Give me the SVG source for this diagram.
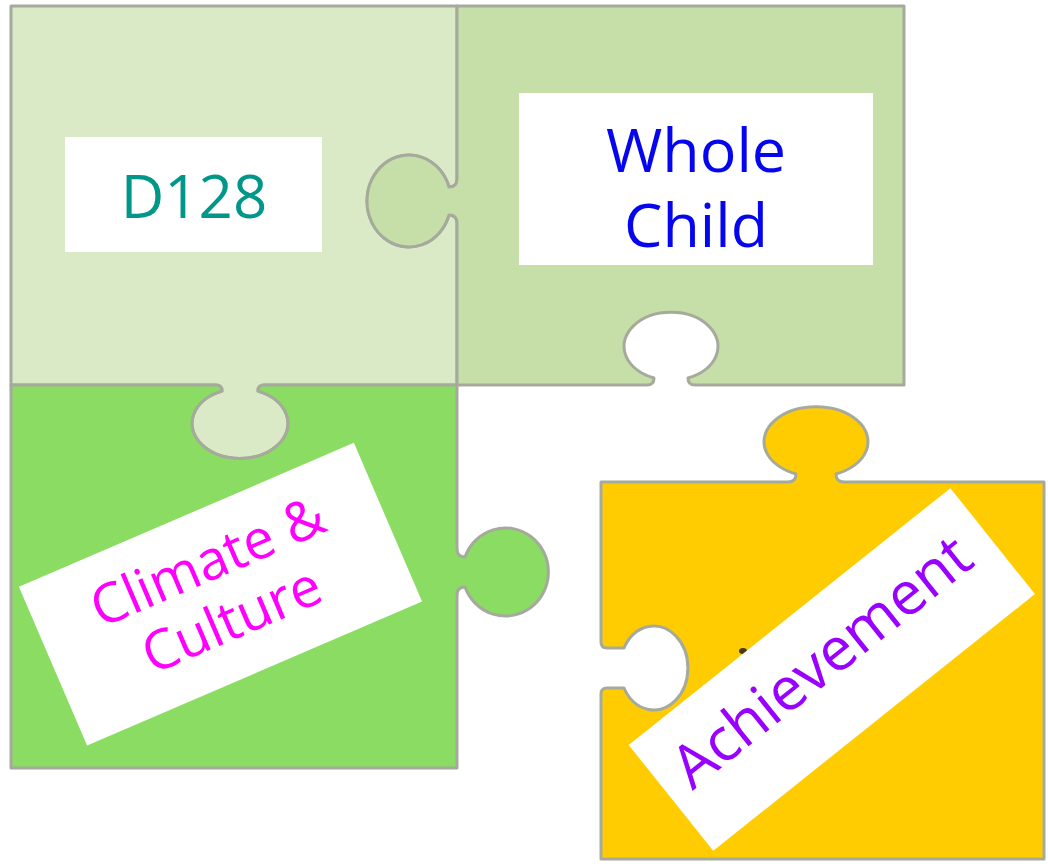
<svg xmlns="http://www.w3.org/2000/svg" width="1048" height="866" viewBox="0 0 1048 866">
  <style>
    .piece { stroke: #a5aa9c; stroke-width: 3; stroke-linejoin: round; }
    .card { fill: #ffffff; }
    .label { font-family: "Open Sans", "Liberation Sans", sans-serif; text-anchor: middle; }
  </style>
  <rect width="1048" height="866" fill="#ffffff"/>

  <!-- top-left piece: hole on the right edge, tab on the bottom edge -->
  <g id="piece-d128">
    <path class="piece" fill="#dae9c6"
      d="M11,6 H457 V179 Q457,187 449,187 A42,46 0 1 0 449,215 Q457,215 457,223 V385 H264 Q258,385 258,391 A48,35 0 1 1 222,391 Q222,385 216,385 H11 Z"/>
  </g>

  <!-- top-right piece: tab on the left edge, hole on the bottom edge -->
  <g id="piece-whole-child">
    <path class="piece" fill="#c6dfa8"
      d="M457,6 H904 V385 H695 Q688,385 688,378 A47,34 0 1 0 654,378 Q654,385 647,385 H457 V223 Q457,215 449,215 A42,46 0 1 1 449,187 Q457,187 457,179 Z"/>
  </g>

  <!-- bottom-left piece: hole on the top edge, tab on the right edge -->
  <g id="piece-climate">
    <path class="piece" fill="#8adc62"
      d="M11,385 H216 Q222,385 222,391 A48,35 0 1 0 258,391 Q258,385 264,385 H457 V549 Q457,557 465,557 A43,44 0 1 1 465,587 Q457,587 457,595 V768 H11 Z"/>
  </g>

  <!-- detached yellow piece: tab on top, hole on the left edge -->
  <g id="piece-achievement">
    <path class="piece" fill="#ffcc02"
      d="M601,482 H788 Q796,482 796,474 A52,35 0 1 1 836,474 Q836,482 844,482 H1044 V859 H601 V694 Q601,688 607,688 H624 A34,42 0 1 0 624,648 H607 Q601,648 601,642 Z"/>
    <ellipse cx="743" cy="651" rx="4" ry="3" fill="#4a3a12"/>
  </g>

  <!-- label cards -->
  <g id="label-d128">
    <rect class="card" x="65" y="137" width="257" height="115"/>
    <text class="label" x="194" y="218" font-size="60" fill="#00968a">D128</text>
  </g>

  <g id="label-whole-child">
    <rect class="card" x="519" y="93" width="354" height="172"/>
    <text class="label" x="696" y="172" font-size="61" fill="#0606ee">Whole</text>
    <text class="label" x="696" y="247" font-size="61" fill="#0606ee">Child</text>
  </g>

  <g id="label-climate" transform="translate(220.5,594.2) rotate(-23.26)">
    <rect class="card" x="-182.3" y="-86.4" width="364.6" height="172.7"/>
    <text class="label" x="1" y="-16" font-size="55" fill="#ff00ff">Climate &amp;</text>
    <text class="label" x="0" y="47" font-size="55" fill="#ff00ff">Culture</text>
  </g>

  <g id="label-achievement" transform="translate(831.8,669.5) rotate(-38.6)">
    <rect class="card" x="-205.8" y="-67.75" width="411.6" height="135.5"/>
    <text class="label" x="-3" y="8" font-size="60" fill="#9900ff">Achievement</text>
  </g>
</svg>
